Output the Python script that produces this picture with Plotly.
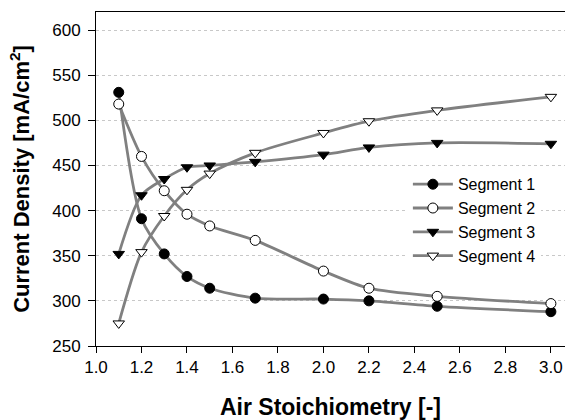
import plotly.graph_objects as go

x_vals = [1.1, 1.2, 1.3, 1.4, 1.5, 1.7, 2.0, 2.2, 2.5, 3.0]
seg1 = [531, 391, 352, 327, 314, 303, 302, 300, 294, 288]
seg2 = [518, 460, 422, 396, 383, 367, 333, 314, 305, 297]
seg3 = [352, 417, 435, 448, 450, 454, 462, 470, 475, 474]
seg4 = [275, 354, 394, 423, 441, 464, 486, 499, 511, 526]
names = ["Segment 1", "Segment 2", "Segment 3", "Segment 4"]
x_ticks = [1.0, 1.2, 1.4, 1.6, 1.8, 2.0, 2.2, 2.4, 2.6, 2.8, 3.0]
y_ticks = [250, 300, 350, 400, 450, 500, 550, 600]

FONT = "Arial, Liberation Sans, sans-serif"
styles = [
    dict(symbol="circle", color="black", size=10),
    dict(symbol="circle", color="white", size=10),
    dict(symbol="triangle-down", color="black", size=10),
    dict(symbol="triangle-down", color="white", size=10),
]

fig = go.Figure()
for name, ys, st in zip(names, [seg1, seg2, seg3, seg4], styles):
    fig.add_trace(go.Scatter(
        x=x_vals, y=ys, name=name, mode="lines+markers",
        line=dict(color="#808080", width=2.8, shape="spline", smoothing=0.8),
        marker=dict(symbol=st["symbol"], color=st["color"], size=st["size"],
                    line=dict(color="black", width=1)),
    ))

fig.update_layout(
    width=565, height=420,
    margin=dict(l=96, r=0, t=12, b=74),
    paper_bgcolor="white", plot_bgcolor="white",
    font=dict(family=FONT, size=17, color="black"),
    showlegend=True,
    legend=dict(x=0.665, y=0.535, xanchor="left", yanchor="top",
                bgcolor="white", borderwidth=0,
                font=dict(family=FONT, size=16, color="black"),
                tracegroupgap=0, itemwidth=40),
)
fig.update_xaxes(
    range=[1.0, 3.062], tickvals=x_ticks, ticktext=[f"{v:.1f}" for v in x_ticks],
    showgrid=False, zeroline=False,
    showline=True, linecolor="black", linewidth=1, mirror=True,
    ticks="outside", ticklen=6, tickcolor="black",
    tickfont=dict(family=FONT, size=17),
    title=dict(text="<b>Air Stoichiometry [-]</b>", font=dict(family=FONT, size=23), standoff=23),
)
fig.update_yaxes(
    range=[250, 620], tickvals=y_ticks,
    showgrid=True, gridcolor="#c8c8c8", griddash="dot", gridwidth=1,
    zeroline=False,
    showline=True, linecolor="black", linewidth=1,
    ticks="outside", ticklen=7, tickcolor="black", ticklabelstandoff=4,
    tickfont=dict(family=FONT, size=17),
    title=dict(text="<b>Current Density [mA/cm<sup>2</sup>]</b>", font=dict(family=FONT, size=22), standoff=16),
)

fig.write_html("out.html", config={"displayModeBar": False},
               post_script="document.body.style.margin='0';document.body.style.overflow='hidden';")
